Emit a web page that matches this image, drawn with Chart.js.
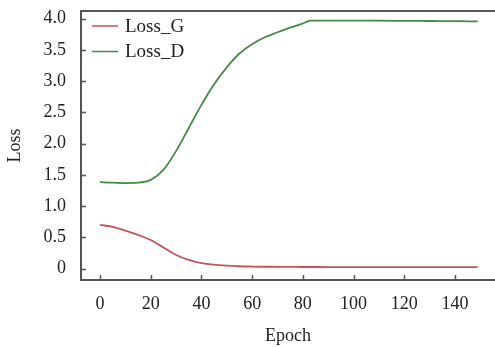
<!DOCTYPE html>
<html>
<head>
<meta charset="utf-8">
<script src="https://cdn.jsdelivr.net/npm/chart.js@4/dist/chart.umd.min.js"></script>
<style>
  html, body { margin: 0; padding: 0; background: #fff; }
  #wrap { width: 495px; height: 347px; }
</style>
</head>
<body>
<div id="wrap"><canvas id="lossChart" width="495" height="347"></canvas></div>
<script>
// values
var epochs = [0, 5, 10, 15, 20, 25, 30, 35, 40, 45, 50, 55, 60, 65, 70, 75, 80, 83, 90, 100, 110, 120, 130, 140, 145, 149];
var lossG  = [0.70, 0.67, 0.61, 0.54, 0.46, 0.34, 0.22, 0.14, 0.09, 0.065, 0.05, 0.04, 0.035, 0.032, 0.03, 0.03, 0.028, 0.028, 0.027, 0.027, 0.026, 0.026, 0.026, 0.025, 0.025, 0.025];
var lossD  = [1.385, 1.375, 1.37, 1.375, 1.42, 1.58, 1.88, 2.25, 2.62, 2.95, 3.22, 3.44, 3.59, 3.70, 3.78, 3.855, 3.92, 3.965, 3.965, 3.965, 3.965, 3.962, 3.96, 3.958, 3.955, 3.955];
var xTicks = [0, 20, 40, 60, 80, 100, 120, 140];
var yTicks = [0, 0.5, 1.0, 1.5, 2.0, 2.5, 3.0, 3.5, 4.0];

var axisColor = '#555555';
var serif = '"Liberation Serif", "Times New Roman", serif';

function points(ys) {
    return epochs.map(function(e, i) { return { x: e, y: ys[i] }; });
}

// inward tick marks, top border line and the legend inside the plot
var framePlugin = {
    id: 'frame',
    afterDraw: function(chart) {
        var ctx = chart.ctx;
        var area = chart.chartArea;
        var xs = chart.scales.x;
        var ys = chart.scales.y;
        ctx.save();
        ctx.strokeStyle = axisColor;
        ctx.lineWidth = 1.5;
        ctx.beginPath();
        xTicks.forEach(function(t) {
            var px = Math.round(xs.getPixelForValue(t)) + 0.5;
            ctx.moveTo(px, area.bottom);
            ctx.lineTo(px, area.bottom - 5);
        });
        yTicks.forEach(function(t) {
            var py = Math.round(ys.getPixelForValue(t)) + 0.5;
            ctx.moveTo(area.left, py);
            ctx.lineTo(area.left + 5, py);
        });
        ctx.stroke();

        ctx.lineWidth = 2;
        ctx.beginPath();
        ctx.moveTo(area.left, area.top);
        ctx.lineTo(area.right, area.top);
        ctx.stroke();

        ctx.font = '19px ' + serif;
        ctx.textBaseline = 'middle';
        ctx.fillStyle = '#222';
        chart.data.datasets.forEach(function(ds, i) {
            var y = area.top + 15 + i * 25.5;
            ctx.strokeStyle = ds.borderColor;
            ctx.lineWidth = 1.5;
            ctx.beginPath();
            ctx.moveTo(area.left + 11, y);
            ctx.lineTo(area.left + 37, y);
            ctx.stroke();
            ctx.fillText(ds.label, area.left + 44, y + 1);
        });
        ctx.restore();
    }
};

new Chart(document.getElementById('lossChart').getContext('2d'), {
    type: 'line',
    data: {
        datasets: [{
            label: 'Loss_G',
            data: points(lossG),
            borderColor: '#c4545a',
            borderWidth: 1.8,
            pointRadius: 0,
            cubicInterpolationMode: 'monotone'
        }, {
            label: 'Loss_D',
            data: points(lossD),
            borderColor: '#428a45',
            borderWidth: 1.8,
            pointRadius: 0,
            cubicInterpolationMode: 'monotone'
        }]
    },
    options: {
        responsive: false,
        animation: false,
        layout: { padding: { top: 11, right: 0, left: 0, bottom: 0 } },
        plugins: {
            legend: { display: false },
            tooltip: { enabled: false }
        },
        scales: {
            x: {
                type: 'linear',
                min: -7.5,
                max: 155.8,
                afterBuildTicks: function(scale) {
                    scale.ticks = xTicks.map(function(v) { return { value: v }; });
                },
                afterFit: function(scale) {
                    scale.height = 67;
                    scale.paddingLeft = 0;
                    scale.paddingRight = 0;
                },
                grid: { drawOnChartArea: false, drawTicks: false },
                border: { color: axisColor, width: 2 },
                ticks: {
                    padding: 13,
                    color: '#222',
                    font: { family: serif, size: 18 },
                    maxRotation: 0
                },
                title: {
                    display: true,
                    text: 'Epoch',
                    color: '#222',
                    font: { family: serif, size: 18 },
                    padding: { top: 5, bottom: 0 }
                }
            },
            y: {
                min: -0.18,
                max: 4.12,
                afterBuildTicks: function(scale) {
                    scale.ticks = yTicks.map(function(v) { return { value: v }; });
                },
                afterFit: function(scale) {
                    scale.width = 81;
                    scale.paddingTop = 0;
                    scale.paddingBottom = 0;
                },
                grid: { drawOnChartArea: false, drawTicks: false },
                border: { color: axisColor, width: 2 },
                ticks: {
                    padding: 15,
                    color: '#222',
                    font: { family: serif, size: 18 },
                    callback: function(v) { return v === 0 ? '0' : v.toFixed(1); }
                },
                title: {
                    display: true,
                    text: 'Loss',
                    color: '#222',
                    font: { family: serif, size: 18 },
                    padding: 4
                }
            }
        }
    },
    plugins: [framePlugin]
});
</script>
</body>
</html>
